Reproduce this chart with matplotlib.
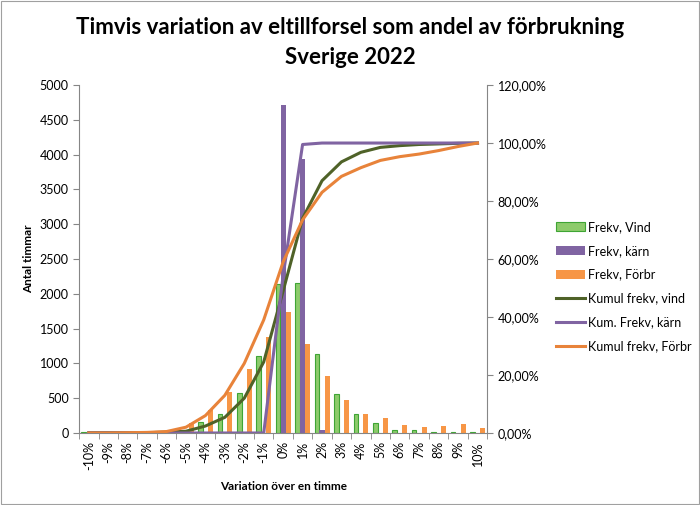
import matplotlib.pyplot as plt
import matplotlib.patches as mpatches
import numpy as np

plt.rcParams['font.family'] = ['Lato', 'DejaVu Sans']

kategorier = ['-10%', '-9%', '-8%', '-7%', '-6%', '-5%', '-4%', '-3%', '-2%', '-1%', '0%',
              '1%', '2%', '3%', '4%', '5%', '6%', '7%', '8%', '9%', '10%']

# antal timmar per klass
frekv_vind = [10, 0, 0, 0, 5, 20, 158, 268, 580, 1102, 2146, 2155, 1140, 556, 278, 150, 48, 38, 14, 14, 10]
frekv_karn = [0, 0, 0, 0, 0, 0, 0, 0, 0, 0, 4720, 3940, 40, 0, 0, 0, 0, 0, 0, 0, 0]
frekv_forbr = [0, 0, 0, 5, 20, 148, 335, 589, 920, 1375, 1739, 1274, 814, 469, 278, 220, 110, 81, 105, 125, 67]

# kumulativ frekvens i procent
kum_vind = [0.1, 0.1, 0.1, 0.1, 0.3, 0.6, 2.4, 5.4, 12.0, 24.5, 49.0, 74.0, 87.0, 93.5, 96.8, 98.5, 99.1, 99.5, 99.7, 99.9, 100.0]
kum_karn = [0, 0, 0, 0, 0, 0, 0, 0, 0, 0, 54.3, 99.5, 100, 100, 100, 100, 100, 100, 100, 100, 100]
kum_forbr = [0.0, 0.0, 0.1, 0.2, 0.5, 2.0, 6.0, 13.0, 24.0, 39.0, 59.0, 73.5, 83.0, 88.5, 91.5, 94.0, 95.3, 96.2, 97.4, 98.8, 100.0]

gron = '#8DCB6B'
gron_kant = '#3FA535'
lila = '#8064A2'
orange = '#F79646'
morkgron = '#4F6228'
orange_linje = '#E8833A'
gra = '#868686'

fig = plt.figure(figsize=(7, 5.05), dpi=100)
fig.patches.append(mpatches.Rectangle((0.001, 0.001), 0.997, 0.997, transform=fig.transFigure,
                                      fill=False, edgecolor='#A0A0A0', linewidth=0.8))

ax = fig.add_axes([0.113, 0.1426, 0.583, 0.689])
x = np.arange(len(kategorier))
b = 0.26
ax.bar(x - b, frekv_vind, b * 0.9, color=gron, edgecolor=gron_kant, linewidth=0.8, label='Frekv, Vind')
ax.bar(x, frekv_karn, b, color=lila, label='Frekv, kärn')
ax.bar(x + b, frekv_forbr, b, color=orange, label='Frekv, Förbr')

ax.set_xlim(-0.5, len(kategorier) - 0.5)
ax.set_ylim(0, 5000)
ax.set_yticks(np.arange(0, 5001, 500))
ax.set_xticks(x)
ax.set_xticklabels(kategorier, rotation=90, fontsize=9)
ax.set_xticks(np.arange(-0.5, len(kategorier), 1), minor=True)
ax.tick_params(axis='x', which='major', length=0, pad=6)
ax.tick_params(axis='x', which='minor', length=4, color=gra)
ax.tick_params(axis='y', labelsize=9, length=4, color=gra)
ax.set_ylabel('Antal timmar', fontsize=8.5, fontweight='bold', labelpad=4)
ax.set_xlabel('Variation över en timme', fontsize=8.5, fontweight='bold', labelpad=8)
for s in ['top', 'right']:
    ax.spines[s].set_visible(False)
ax.spines['left'].set_color(gra)
ax.spines['bottom'].set_color(gra)

ax2 = ax.twinx()
ax2.plot(x, kum_vind, color=morkgron, linewidth=2.2, label='Kumul frekv, vind')
ax2.plot(x, kum_karn, color=lila, linewidth=2.2, label='Kum. Frekv, kärn')
ax2.plot(x, kum_forbr, color=orange_linje, linewidth=2.2, label='Kumul frekv, Förbr')
ax2.set_ylim(0, 120)
ax2.set_yticks(np.arange(0, 121, 20))
ax2.set_yticklabels([f'{v},00%' for v in range(0, 121, 20)])
ax2.tick_params(axis='y', labelsize=9, length=4, color=gra)
for s in ['top', 'left', 'bottom']:
    ax2.spines[s].set_visible(False)
ax2.spines['right'].set_color(gra)

h1, l1 = ax.get_legend_handles_labels()
h2, l2 = ax2.get_legend_handles_labels()
fig.legend(h1 + h2, l1 + l2, loc='upper left', bbox_to_anchor=(0.778, 0.585), frameon=False,
           fontsize=9, handlelength=2.3, handletextpad=0.3, labelspacing=0.95)

fig.text(0.5, 1 - 27 / 505, 'Timvis variation av eltillforsel som andel av förbrukning',
         fontsize=16, fontweight='bold', ha='center', va='center')
fig.text(0.5, 1 - 58 / 505, 'Sverige 2022', fontsize=16, fontweight='bold', ha='center', va='center')

fig.savefig('out.png', dpi=100)
